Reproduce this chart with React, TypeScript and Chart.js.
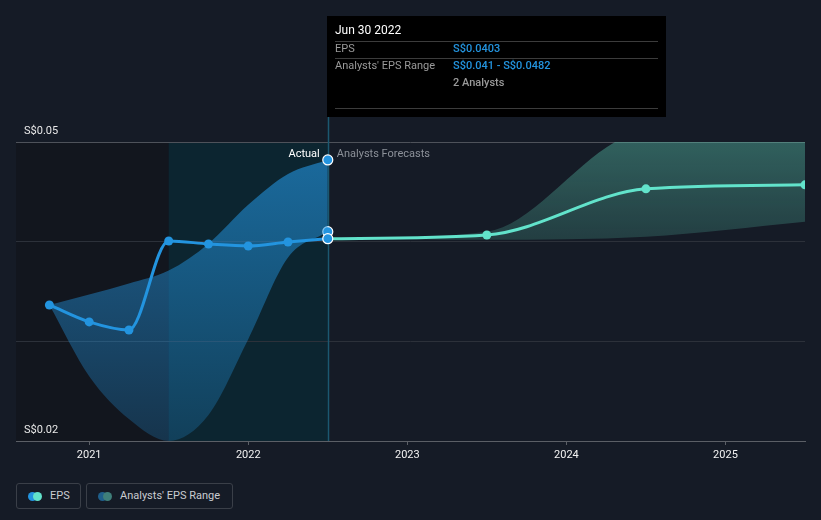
import React, { useEffect, useRef } from "react";
import { Chart, registerables } from "chart.js";

Chart.register(...registerables);

// ---- data ----
const ACTUAL_X = [2020.75, 2021.0, 2021.25, 2021.5, 2021.75, 2022.0, 2022.25, 2022.5];
const ACTUAL_EPS = [0.03365, 0.03195, 0.03114, 0.04007, 0.03977, 0.03957, 0.03997, 0.0403];
const ACTUAL_RANGE_HIGH = [0.03365, 0.0347, 0.0358, 0.0371, 0.0398, 0.0437, 0.0468, 0.0482];
const ACTUAL_RANGE_LOW = [0.03365, 0.0265, 0.0222, 0.02, 0.0226, 0.0302, 0.0384, 0.041];

const FORECAST_X = [2022.5, 2023.5, 2024.5, 2025.5];
const FORECAST_EPS = [0.0403, 0.04067, 0.0453, 0.0457];
const FORECAST_HIGH = [0.0403, 0.041, 0.051, 0.0512];
const FORECAST_LOW = [0.0403, 0.0402, 0.0405, 0.042];

const X_TICKS = [2021, 2022, 2023, 2024, 2025];
const Y_GRID = [0.02, 0.03, 0.04, 0.05];
const Y_LABELS = [0.02, 0.05];
const X_MIN = 2020.54;
const X_MAX = 2025.5;
const PAST_YEAR_START = 2021.5;
const HOVER_X = 2022.5;

const TOOLTIP_TITLE = "Jun 30 2022";
const TOOLTIP_ROWS = [
  ["EPS", "S$0.0403"],
  ["Analysts' EPS Range", "S$0.041 - S$0.0482"],
];
const TOOLTIP_ANALYSTS = "2 Analysts";

const BLUE = "#2394df";
const TEAL = "#62e3cb";
const FONT = "Roboto, 'Noto Sans', sans-serif";

const pts = (xs: number[], ys: number[]) => xs.map((x, i) => ({ x, y: ys[i] }));

const lastOnly = (n: number, v: any, other: any = 0) =>
  Array.from({ length: n }, (_, i) => (i === n - 1 ? v : other));

const bgPlugin = {
  id: "bgRegions",
  beforeDraw(chart: any) {
    const { ctx, chartArea: ca, scales } = chart;
    const xs = scales.x;
    const xa = xs.getPixelForValue(PAST_YEAR_START);
    const xb = xs.getPixelForValue(HOVER_X);
    ctx.save();
    ctx.fillStyle = "#12161e";
    ctx.fillRect(ca.left, ca.top, xa - ca.left, ca.bottom - ca.top);
    ctx.fillStyle = "#0c2530";
    ctx.fillRect(xa, ca.top, xb - xa, ca.bottom - ca.top);
    ctx.restore();
  },
  beforeDatasetsDraw(chart: any) {
    const { ctx, chartArea: ca, scales } = chart;
    const xb = Math.round(scales.x.getPixelForValue(HOVER_X)) + 0.5;
    ctx.save();
    ctx.strokeStyle = "#1b5870";
    ctx.lineWidth = 1.5;
    ctx.beginPath();
    ctx.moveTo(xb, 117);
    ctx.lineTo(xb, ca.bottom);
    ctx.stroke();
    ctx.restore();
  },
  afterDraw(chart: any) {
    const { ctx, chartArea: ca, scales } = chart;
    const ys = scales.y;
    const xb = scales.x.getPixelForValue(HOVER_X);
    ctx.save();
    // y labels
    ctx.font = `11px ${FONT}`;
    ctx.fillStyle = "#e8e8e8";
    ctx.textAlign = "left";
    ctx.textBaseline = "middle";
    Y_LABELS.forEach((v) => {
      ctx.fillText("S$" + v.toFixed(2), ca.left + 8, ys.getPixelForValue(v) - 11);
    });
    // Actual / Forecast labels
    const ly = ys.getPixelForValue(0.05) + 12;
    ctx.textAlign = "right";
    ctx.fillStyle = "#ffffff";
    ctx.fillText("Actual", xb - 8, ly);
    ctx.textAlign = "left";
    ctx.fillStyle = "#8c9199";
    ctx.fillText("Analysts Forecasts", xb + 9, ly);

    // tooltip
    const tx = Math.round(xb) - 1;
    ctx.fillStyle = "#000000";
    ctx.fillRect(tx, 16, 339, 101);
    ctx.strokeStyle = "#3c3c3c";
    ctx.lineWidth = 1;
    [41.5, 58.5, 108.5].forEach((ly2) => {
      ctx.beginPath();
      ctx.moveTo(tx + 8, ly2);
      ctx.lineTo(tx + 331, ly2);
      ctx.stroke();
    });
    ctx.textAlign = "left";
    ctx.textBaseline = "middle";
    ctx.font = `12px ${FONT}`;
    ctx.fillStyle = "#ffffff";
    ctx.fillText(TOOLTIP_TITLE, tx + 8, 31);
    TOOLTIP_ROWS.forEach((r, i) => {
      const ry = 49.5 + i * 17;
      ctx.font = `11px ${FONT}`;
      ctx.fillStyle = "#9a9a9a";
      ctx.fillText(r[0], tx + 8, ry);
      ctx.font = `500 11px ${FONT}`;
      ctx.fillStyle = BLUE;
      ctx.fillText(r[1], tx + 126, ry);
    });
    ctx.font = `500 11px ${FONT}`;
    ctx.fillStyle = "#9a9a9a";
    ctx.fillText(TOOLTIP_ANALYSTS, tx + 126, 83);
    ctx.restore();
  },
};

export default function App() {
  const ref = useRef<HTMLCanvasElement | null>(null);

  useEffect(() => {
    if (!ref.current) return;
    const blueGrad = (c: any) => {
      const ca = c.chart.chartArea;
      if (!ca) return "rgba(35,148,223,0.4)";
      const g = c.chart.ctx.createLinearGradient(0, ca.top, 0, ca.bottom);
      g.addColorStop(0, "rgba(35,148,223,0.64)");
      g.addColorStop(1, "rgba(35,148,223,0.24)");
      return g;
    };
    const tealGrad = (c: any) => {
      const ca = c.chart.chartArea;
      if (!ca) return "rgba(88,192,170,0.3)";
      const g = c.chart.ctx.createLinearGradient(0, ca.top, 0, ca.bottom);
      g.addColorStop(0, "rgba(88,192,170,0.42)");
      g.addColorStop(0.35, "rgba(88,192,170,0.2)");
      g.addColorStop(1, "rgba(88,192,170,0.1)");
      return g;
    };
    const nA = ACTUAL_X.length;
    const chart = new Chart(ref.current, {
      type: "line",
      data: {
        datasets: [
          {
            label: "EPS",
            data: pts(ACTUAL_X, ACTUAL_EPS),
            borderColor: BLUE,
            borderWidth: 3,
            cubicInterpolationMode: "monotone",
            pointRadius: lastOnly(nA, 5, 4.5),
            pointBackgroundColor: BLUE,
            pointBorderColor: lastOnly(nA, "#ffffff", BLUE),
            pointBorderWidth: lastOnly(nA, 1.2, 0),
            fill: false,
          },
          {
            label: "Forecast",
            data: pts(FORECAST_X, FORECAST_EPS),
            borderColor: TEAL,
            borderWidth: 3,
            cubicInterpolationMode: "monotone",
            pointRadius: FORECAST_X.map((_, i) => (i === 0 ? 0 : 4.5)),
            pointBackgroundColor: TEAL,
            pointBorderWidth: 0,
            fill: false,
          },
          {
            label: "RangeHigh",
            data: pts(ACTUAL_X, ACTUAL_RANGE_HIGH),
            borderWidth: 0,
            borderColor: "rgba(0,0,0,0)",
            backgroundColor: blueGrad,
            cubicInterpolationMode: "monotone",
            pointRadius: lastOnly(nA, 5),
            pointBackgroundColor: BLUE,
            pointBorderColor: "#ffffff",
            pointBorderWidth: 1.2,
            fill: "+1",
          },
          {
            label: "RangeLow",
            data: pts(ACTUAL_X, ACTUAL_RANGE_LOW),
            borderWidth: 0,
            borderColor: "rgba(0,0,0,0)",
            cubicInterpolationMode: "monotone",
            pointRadius: lastOnly(nA, 5),
            pointBackgroundColor: BLUE,
            pointBorderColor: "#ffffff",
            pointBorderWidth: 1.2,
            fill: false,
          },
          {
            label: "FcHigh",
            data: pts(FORECAST_X, FORECAST_HIGH),
            borderWidth: 0,
            borderColor: "rgba(0,0,0,0)",
            backgroundColor: tealGrad,
            cubicInterpolationMode: "monotone",
            pointRadius: 0,
            fill: "+1",
          },
          {
            label: "FcLow",
            data: pts(FORECAST_X, FORECAST_LOW),
            borderWidth: 0,
            borderColor: "rgba(0,0,0,0)",
            cubicInterpolationMode: "monotone",
            pointRadius: 0,
            fill: false,
          },
        ],
      },
      options: {
        animation: false,
        responsive: false,
        maintainAspectRatio: false,
        events: [],
        layout: { padding: { left: 16, right: 16, top: 142, bottom: 0 } },
        plugins: {
          legend: { display: false },
          tooltip: { enabled: false },
        },
        scales: {
          x: {
            type: "linear",
            min: X_MIN,
            max: X_MAX,
            afterBuildTicks: (s: any) => {
              s.ticks = X_TICKS.map((v) => ({ value: v }));
            },
            afterFit: (s: any) => {
              s.height = 29;
            },
            ticks: {
              color: "#f2f2f2",
              font: { family: FONT, size: 11 },
              padding: 4,
              maxRotation: 0,
              autoSkip: false,
              callback: (v: any) => String(v),
            },
            grid: {
              drawOnChartArea: false,
              drawTicks: true,
              tickLength: 4,
              tickColor: "#5b5f66",
            },
            border: { display: true, color: "#5b5f66", width: 1 },
          },
          y: {
            type: "linear",
            min: 0.02,
            max: 0.05,
            afterBuildTicks: (s: any) => {
              s.ticks = Y_GRID.map((v) => ({ value: v }));
            },
            afterFit: (s: any) => {
              s.width = 0;
            },
            ticks: { display: false },
            grid: {
              drawTicks: false,
              color: (c: any) =>
                c.tick && Math.abs(c.tick.value - 0.05) < 1e-9 ? "#4e525a" : "#2c313a",
              lineWidth: 1,
            },
            border: { display: false },
          },
        },
      } as any,
      plugins: [bgPlugin],
    });
    return () => chart.destroy();
  }, []);

  const box: React.CSSProperties = {
    position: "absolute",
    top: 483,
    height: 26,
    border: "1px solid #3a3f48",
    borderRadius: 3,
    boxSizing: "border-box",
  };
  const dot = (left: number, color: string): React.CSSProperties => ({
    position: "absolute",
    left,
    top: 8,
    width: 9,
    height: 9,
    borderRadius: "50%",
    background: color,
  });
  const txt = (left: number): React.CSSProperties => ({
    position: "absolute",
    left,
    top: 0,
    lineHeight: "24px",
    fontSize: 11,
    fontFamily: FONT,
    color: "#c9ccd1",
    whiteSpace: "nowrap",
  });

  return (
    <div
      style={{
        position: "fixed",
        left: 0,
        top: 0,
        width: 821,
        height: 520,
        background: "#151b26",
        overflow: "hidden",
      }}
    >
      <canvas ref={ref} width={821} height={470} style={{ position: "absolute", left: 0, top: 0, width: 821, height: 470 }} />
      <div style={{ ...box, left: 16, width: 65 }}>
        <div style={dot(11, BLUE)} />
        <div style={dot(16, TEAL)} />
        <div style={txt(33)}>EPS</div>
      </div>
      <div style={{ ...box, left: 86, width: 147 }}>
        <div style={dot(11, "#1f5f8b")} />
        <div style={dot(16, "#3f7f7a")} />
        <div style={txt(33)}>Analysts' EPS Range</div>
      </div>
    </div>
  );
}
